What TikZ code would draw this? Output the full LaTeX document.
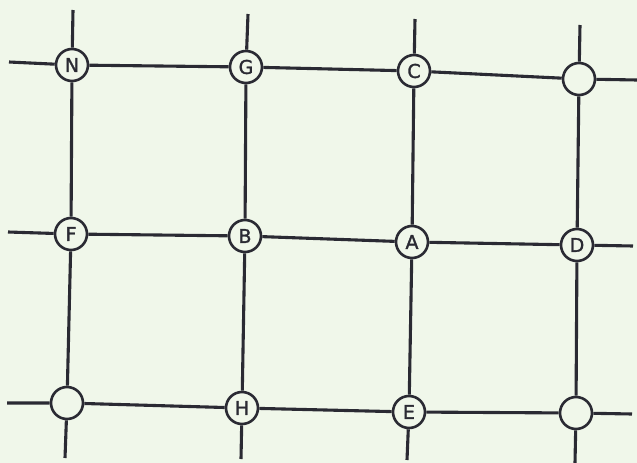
\documentclass[tikz,border=0pt]{standalone}
\usepackage{fontspec}
\setmainfont{DejaVu Sans}
\newfontfamily\lblfont[FakeBold=1.6]{DejaVu Sans}
\definecolor{bg}{HTML}{F0F7EA}
\definecolor{ink}{HTML}{2A2A33}
\begin{document}
\begin{tikzpicture}[x=1pt,y=-1pt,
  junc/.style={circle,draw=ink,line width=2.6pt,fill=bg,minimum size=32pt,inner sep=0pt,font=\lblfont\fontsize{19}{19}\selectfont,text=ink},
  wire/.style={draw=ink,line width=3.1pt}]
\fill[bg] (0,0) rectangle (637,463);
\useasboundingbox (0,0) rectangle (637,463);
% nodes
\node[junc] (N) at (72,65) {N};
\node[junc] (G) at (246,67) {G};
\node[junc] (C) at (414,71) {C};
\node[junc] (TR) at (579,79) {};
\node[junc] (F) at (71,234) {F};
\node[junc] (B) at (245,236) {B};
\node[junc] (A) at (412,242) {A};
\node[junc] (D) at (577,245) {D};
\node[junc] (BL) at (67,403) {};
\node[junc] (H) at (242,408) {H};
\node[junc] (E) at (409,412) {E};
\node[junc] (BR) at (576,413) {};
% stub ends
\coordinate (t1) at (73,10);
\coordinate (t2) at (248,14);
\coordinate (t3) at (415,19);
\coordinate (t4) at (580,25);
\coordinate (l1) at (9,62);
\coordinate (l2) at (8,232);
\coordinate (l3) at (7,403);
\coordinate (r1) at (637,80);
\coordinate (r2) at (633,246);
\coordinate (r3) at (632,414);
\coordinate (b1) at (65,458);
\coordinate (b2) at (241,459);
\coordinate (b3) at (407,460);
\coordinate (b4) at (575,463);
% horizontal
\path[wire] (l1) -- (N) -- (G) -- (C) -- (TR) -- (r1);
\path[wire] (l2) -- (F) -- (B) -- (A) -- (D) -- (r2);
\path[wire] (l3) -- (BL) -- (H) -- (E) -- (BR) -- (r3);
% vertical
\path[wire] (t1) -- (N) -- (F) -- (BL) -- (b1);
\path[wire] (t2) -- (G) -- (B) -- (H) -- (b2);
\path[wire] (t3) -- (C) -- (A) -- (E) -- (b3);
\path[wire] (t4) -- (TR) -- (D) -- (BR) -- (b4);
\end{tikzpicture}
\end{document}
